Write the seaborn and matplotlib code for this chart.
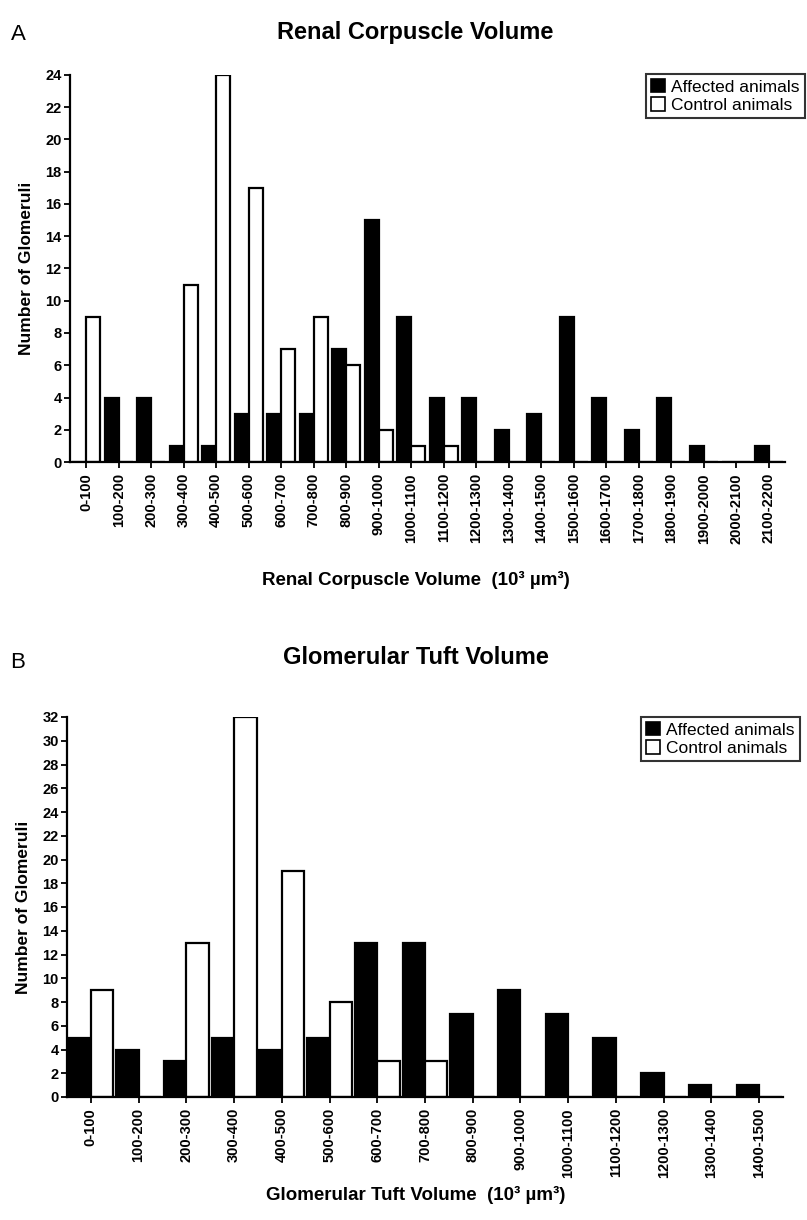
import matplotlib
matplotlib.use("Agg")
import matplotlib.pyplot as plt
import seaborn as sns
import pandas as pd
from matplotlib.patches import Patch

# ---------------- data ----------------
bins_a = ["0-100", "100-200", "200-300", "300-400", "400-500", "500-600", "600-700",
          "700-800", "800-900", "900-1000", "1000-1100", "1100-1200", "1200-1300",
          "1300-1400", "1400-1500", "1500-1600", "1600-1700", "1700-1800",
          "1800-1900", "1900-2000", "2000-2100", "2100-2200"]
affected_a = [0, 4, 4, 1, 1, 3, 3, 3, 7, 15, 9, 4, 4, 2, 3, 9, 4, 2, 4, 1, 0, 1]
control_a = [9, 0, 0, 11, 24, 17, 7, 9, 6, 2, 1, 1, 0, 0, 0, 0, 0, 0, 0, 0, 0, 0]

bins_b = ["0-100", "100-200", "200-300", "300-400", "400-500", "500-600", "600-700",
          "700-800", "800-900", "900-1000", "1000-1100", "1100-1200", "1200-1300",
          "1300-1400", "1400-1500"]
affected_b = [5, 4, 3, 5, 4, 5, 13, 13, 7, 9, 7, 5, 2, 1, 1]
control_b = [9, 0, 13, 32, 19, 8, 3, 3, 0, 0, 0, 0, 0, 0, 0]

groups = ["Affected animals", "Control animals"]
titles = ["Renal Corpuscle Volume", "Glomerular Tuft Volume"]
xlabels = ["Renal Corpuscle Volume  (10³ µm³)", "Glomerular Tuft Volume  (10³ µm³)"]
ylabel = "Number of Glomeruli"
panel_letters = ["A", "B"]

# ---------------- style ----------------
sns.set_theme(style="ticks")
plt.rcParams["font.family"] = ["Liberation Sans", "DejaVu Sans"]
plt.rcParams["text.color"] = "black"
plt.rcParams["axes.labelcolor"] = "black"
plt.rcParams["xtick.color"] = "black"
plt.rcParams["ytick.color"] = "black"

W, H = 807, 1220
fig = plt.figure(figsize=(W / 100, H / 100), dpi=100)

def to_long(bins, aff, ctl):
    return pd.DataFrame({
        "bin": bins * 2,
        "count": list(aff) + list(ctl),
        "group": [groups[0]] * len(bins) + [groups[1]] * len(bins),
    })

palette = {groups[0]: "black", groups[1]: "white"}

def panel(rect, bins, aff, ctl, ymax, width, title, xlabel, letter,
          title_y, letter_y, xlabel_y, legend_box):
    ax = fig.add_axes(rect)
    df = to_long(bins, aff, ctl)
    sns.barplot(data=df, x="bin", y="count", hue="group", hue_order=groups,
                order=bins, palette=palette, edgecolor="black", linewidth=1.6,
                width=width, gap=0, errorbar=None, ax=ax, legend=False)
    ax.set_xlim(-0.5, len(bins) - 0.5)
    ax.set_ylim(0, ymax)
    ax.set_yticks(range(0, ymax + 1, 2))
    for s in ["top", "right"]:
        ax.spines[s].set_visible(False)
    for s in ["left", "bottom"]:
        ax.spines[s].set_linewidth(1.6)
        ax.spines[s].set_color("black")
    ax.tick_params(axis="both", direction="out", length=4, width=1.3,
                   color="black", labelcolor="black")
    ax.tick_params(axis="y", labelsize=10.5, pad=2)
    ax.tick_params(axis="x", labelsize=10.5, pad=4)
    ax.set_xticks(range(len(bins)))
    ax.set_xticklabels(bins, rotation=90, fontweight="bold")
    for t in ax.get_yticklabels():
        t.set_fontweight("bold")
    ax.set_xlabel("")
    ax.set_ylabel(ylabel, fontsize=12.5, fontweight="bold", labelpad=6)
    ax.yaxis.set_label_coords(-0.05, 0.5)
    ax.grid(False)
    ax.set_facecolor("white")

    fig.text(0.515, title_y, title, ha="center", va="center",
             fontsize=17, fontweight="bold", color="black")
    fig.text(0.013, letter_y, letter, ha="left", va="center", fontsize=16,
             color="black")
    fig.text(0.515, xlabel_y, xlabel, ha="center", va="center",
             fontsize=13.5, fontweight="bold", color="black")

    handles = [Patch(facecolor=palette[g], edgecolor="black", linewidth=1.2, label=g)
               for g in groups]
    leg = fig.legend(handles=handles, loc="upper right", bbox_to_anchor=legend_box,
                     frameon=True, fancybox=False, edgecolor="black",
                     fontsize=12.5, handlelength=0.8, handleheight=0.8,
                     handletextpad=0.35, borderpad=0.3, labelspacing=0.15,
                     borderaxespad=0)
    leg.get_frame().set_linewidth(1.5)
    for t in leg.get_texts():
        t.set_color("black")
    return ax

# Panel A
panel([70 / W, 1 - 462 / H, 715 / W, 387 / H], bins_a, affected_a, control_a, 24, 0.86,
      titles[0], xlabels[0], panel_letters[0],
      1 - 32 / H, 1 - 35 / H, 1 - 580 / H, (805 / W, 1 - 74 / H))

# Panel B
panel([67 / W, 1 - 1097 / H, 716 / W, 380 / H], bins_b, affected_b, control_b, 32, 0.94,
      titles[1], xlabels[1], panel_letters[1],
      1 - 657 / H, 1 - 663 / H, 1 - 1195 / H, (800 / W, 1 - 717 / H))

fig.savefig("out.png", dpi=100, facecolor="white")
